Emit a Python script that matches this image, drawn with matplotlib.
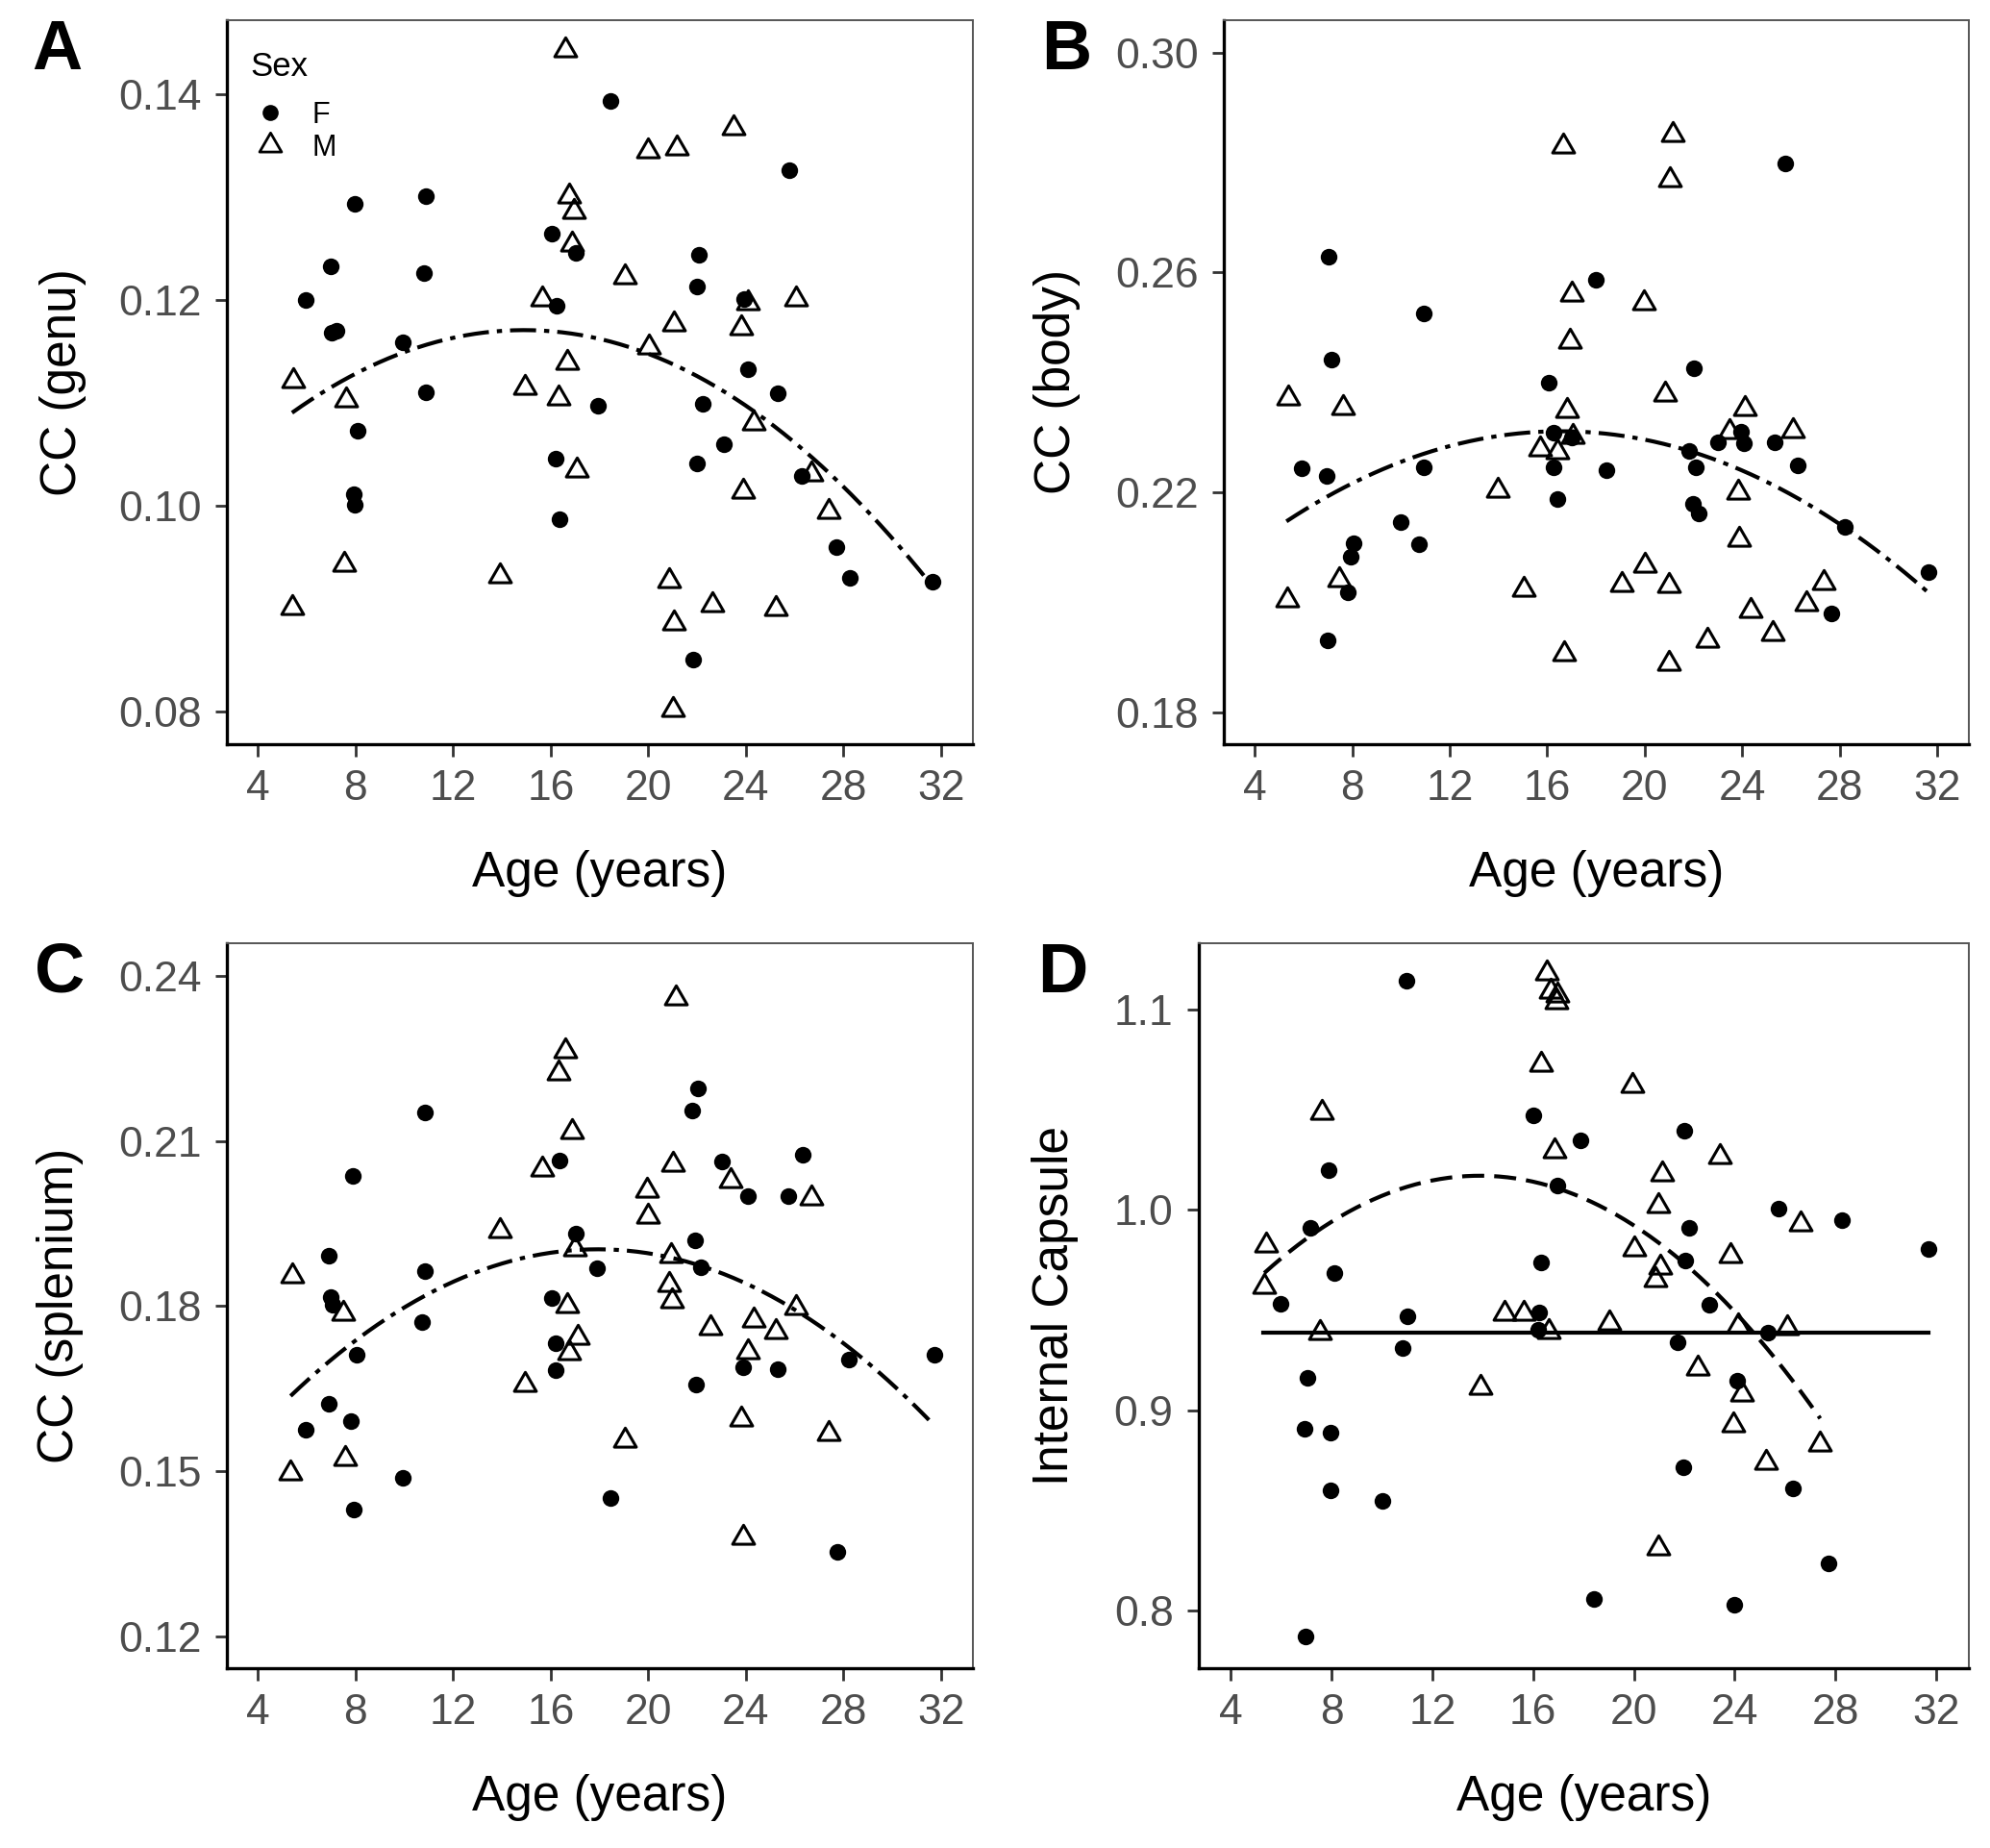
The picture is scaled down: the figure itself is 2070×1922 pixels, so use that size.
import numpy as np
import matplotlib
matplotlib.use("Agg")
import matplotlib.pyplot as plt
from matplotlib.lines import Line2D
from matplotlib.path import Path

plt.rcParams['font.family'] = ['Liberation Sans', 'DejaVu Sans']

# ---------------- data ----------------
age_ticks = [4, 8, 12, 16, 20, 24, 28, 32]

# A: CC (genu)
genu_age_f = [5.97, 7.0, 7.04, 7.24, 7.97, 8.10, 7.92, 7.95, 9.95, 10.90, 10.82, 10.90,
              16.03, 16.26, 17.03, 16.2, 16.37, 17.92, 18.45, 22.07, 22.0, 22.23, 22.0,
              23.09, 21.84, 23.93, 24.09, 25.3, 25.77, 26.3, 27.7, 28.27, 31.64]
genu_f = [0.1200, 0.1233, 0.1168, 0.1170, 0.1293, 0.1073, 0.1011, 0.1001, 0.1159, 0.1301,
          0.1226, 0.1110, 0.1264, 0.1194, 0.1246, 0.1046, 0.0987, 0.1097, 0.1393, 0.1244,
          0.1213, 0.1099, 0.1041, 0.1060, 0.0850, 0.1201, 0.1133, 0.1109, 0.1326, 0.1029,
          0.0960, 0.0930, 0.0926]
genu_age_m = [5.45, 5.40, 7.62, 7.53, 13.91, 14.94, 15.64, 16.33, 16.66, 16.6, 16.75, 16.97,
              16.89, 17.06, 19.05, 19.97, 20.04, 21.17, 21.03, 20.86, 21.03, 20.99, 22.62,
              23.48, 24.09, 23.8, 26.07, 24.3, 23.9, 26.7, 27.4, 25.24]
genu_m = [0.1121, 0.0901, 0.1103, 0.0943, 0.0932, 0.1115, 0.1201, 0.1105, 0.1139, 0.1443,
          0.1301, 0.1286, 0.1254, 0.1034, 0.1222, 0.1345, 0.1154, 0.1348, 0.1177, 0.0927,
          0.0886, 0.0802, 0.0904, 0.1367, 0.1197, 0.1173, 0.1201, 0.1080, 0.1014, 0.1031,
          0.0994, 0.0900]
genu_fit_age = [5.4, 13.2, 17.9, 23.5, 27.3, 31.6]
genu_fit = [0.1089, 0.1170, 0.1165, 0.1103, 0.1030, 0.0926]

# B: CC (body)
body_age_f = [7.04, 7.15, 5.94, 6.95, 6.98, 8.07, 7.93, 7.83, 9.99, 10.75, 10.95, 10.95,
              25.78, 17.99, 22.02, 16.06, 16.26, 23.95, 24.08, 23.01, 25.32, 21.82, 22.09,
              26.26, 16.26, 18.43, 16.42, 21.99, 22.2, 28.22, 31.64, 27.67, 17.0]
body_f = [0.2628, 0.2442, 0.2244, 0.2230, 0.1931, 0.2107, 0.2083, 0.2018, 0.2146, 0.2105,
          0.2525, 0.2246, 0.2799, 0.2586, 0.2425, 0.2400, 0.2308, 0.2310, 0.2290, 0.2291,
          0.2291, 0.2276, 0.2245, 0.2250, 0.2245, 0.2241, 0.2188, 0.2180, 0.2161, 0.2137,
          0.2055, 0.1979, 0.2300]
body_age_m = [5.38, 7.61, 5.34, 7.48, 16.64, 21.15, 21.02, 16.99, 19.95, 16.94, 20.84, 16.81,
              24.12, 23.46, 26.08, 15.70, 16.41, 17.05, 13.99, 23.84, 23.89, 20.02, 15.02,
              19.05, 20.98, 27.34, 26.63, 24.33, 25.25, 22.57, 16.71, 20.98]
body_m = [0.2371, 0.2355, 0.2004, 0.2041, 0.2830, 0.2851, 0.2768, 0.2561, 0.2544, 0.2475,
          0.2379, 0.2349, 0.2353, 0.2310, 0.2313, 0.2279, 0.2274, 0.2302, 0.2203, 0.2200,
          0.2115, 0.2068, 0.2024, 0.2033, 0.2030, 0.2035, 0.1997, 0.1985, 0.1943, 0.1931,
          0.1907, 0.1889]
body_fit_age = [5.3, 12.5, 18.0, 26.3, 31.6]
body_fit = [0.2148, 0.2288, 0.2310, 0.2189, 0.2019]

# C: CC (splenium)
spl_age_f = [10.84, 7.90, 6.90, 10.84, 6.99, 7.08, 10.73, 8.03, 6.92, 7.83, 5.95, 9.94, 7.92,
             22.03, 21.79, 16.35, 23.02, 17.02, 21.91, 17.9, 22.16, 16.04, 16.22, 16.2, 21.97,
             18.43, 26.33, 24.09, 25.73, 23.9, 25.3, 28.23, 31.73, 27.73]
spl_f = [0.2151, 0.2037, 0.1891, 0.1863, 0.1817, 0.1802, 0.1770, 0.1711, 0.1623, 0.1591,
         0.1576, 0.1487, 0.1430, 0.2196, 0.2155, 0.2064, 0.2063, 0.1932, 0.1919, 0.1868,
         0.1870, 0.1815, 0.1732, 0.1684, 0.1657, 0.1452, 0.2074, 0.2000, 0.2000, 0.1689,
         0.1685, 0.1703, 0.1712, 0.1353]
spl_age_m = [5.39, 7.51, 7.57, 5.34, 21.11, 16.59, 16.33, 16.89, 15.67, 21.01, 23.38, 19.93,
             20.0, 13.93, 16.98, 20.94, 20.85, 20.98, 16.66, 22.56, 17.09, 16.75, 14.95, 19.04,
             26.67, 26.04, 24.31, 25.24, 24.09, 23.8, 27.4, 23.9]
spl_m = [0.1854, 0.1787, 0.1522, 0.1497, 0.2359, 0.2263, 0.2223, 0.2117, 0.2048, 0.2058,
         0.2028, 0.2010, 0.1963, 0.1937, 0.1904, 0.1891, 0.1839, 0.1809, 0.1800, 0.1761,
         0.1743, 0.1715, 0.1657, 0.1556, 0.1997, 0.1797, 0.1775, 0.1753, 0.1716, 0.1595,
         0.1569, 0.1380]
spl_fit_age = [5.34, 8.0, 10.8, 13.3, 17.0, 21.05, 23.3, 27.7, 31.5]
spl_fit = [0.1637, 0.1735, 0.1817, 0.1870, 0.1903, 0.1887, 0.1852, 0.1740, 0.1595]

# D: Internal Capsule
ic_age_f = [10.97, 7.87, 7.14, 8.10, 5.97, 11.01, 10.82, 7.06, 6.92, 7.94, 7.95, 10.01, 6.97,
            16.0, 17.88, 22.02, 16.97, 16.32, 25.76, 28.25, 31.71, 22.18, 22.06, 23.0, 16.23,
            16.19, 25.31, 21.75, 24.10, 21.95, 26.30, 27.71, 18.42, 23.97]
ic_f = [1.1143, 1.0196, 0.9909, 0.9687, 0.9530, 0.9468, 0.9310, 0.9162, 0.8909, 0.8888,
        0.8601, 0.8547, 0.7874, 1.0470, 1.0346, 1.0394, 1.0122, 0.9740, 1.0005, 0.9950,
        0.9807, 0.9909, 0.9747, 0.9525, 0.9489, 0.9401, 0.9389, 0.9341, 0.9150, 0.8714,
        0.8609, 0.8239, 0.8057, 0.8029]
ic_age_m = [7.62, 5.40, 5.33, 7.53, 16.54, 16.70, 16.97, 16.94, 16.30, 19.93, 16.87, 23.40,
            21.11, 20.98, 26.63, 20.0, 23.83, 21.04, 20.85, 14.88, 15.62, 19.01, 16.63, 24.13,
            26.09, 13.90, 22.55, 24.30, 23.94, 27.40, 25.25, 20.98]
ic_m = [1.0487, 0.9823, 0.9616, 0.9389, 1.1179, 1.1091, 1.1072, 1.1036, 1.0726, 1.0618,
        1.0296, 1.0265, 1.0177, 1.0021, 0.9931, 0.9807, 0.9771, 0.9716, 0.9652, 0.9484,
        0.9484, 0.9437, 0.9394, 0.9420, 0.9413, 0.9115, 0.9210, 0.9079, 0.8928, 0.8833,
        0.8738, 0.8315]
ic_fit_age = [5.33, 8.64, 13.26, 16.97, 21.14, 23.16, 26.52, 27.4]
ic_fit = [0.968, 0.9986, 1.0181, 1.0122, 0.9807, 0.9568, 0.915, 0.8947]
ic_flat_age = [5.3, 31.7]
ic_flat = 0.939

# ---------------- figure ----------------
W, H = 2070, 1922
fig = plt.figure(figsize=(W / 100, H / 100), dpi=100)

def add_ax(l, t, r, b):
    return fig.add_axes([l / W, 1 - b / H, (r - l) / W, (b - t) / H])

# open triangle, closed path so the corners join
tri = Path([(-1, -0.577), (1, -0.577), (0, 1.155), (-1, -0.577)],
           [Path.MOVETO, Path.LINETO, Path.LINETO, Path.CLOSEPOLY])
DOTDASH = (0, (6.5, 2, 1.3, 2))
LW = 3.0

def draw_points(ax, age_f, val_f, age_m, val_m):
    ax.plot(age_f, val_f, linestyle='none', marker='o', ms=12.5, color='black', mew=0)
    ax.plot(age_m, val_m, linestyle='none', marker=tri, ms=19, mfc='none',
            mec='black', mew=2.2)

def quad_curve(ax, xs, ys, ls):
    c = np.polyfit(xs, ys, 2)
    xx = np.linspace(xs[0], xs[-1], 200)
    ax.plot(xx, np.polyval(c, xx), color='black', lw=LW, linestyle=ls)

def style(ax, ylim, yticks, fmt):
    ax.set_xlim(2.73, 33.3)
    ax.set_ylim(*ylim)
    ax.set_xticks(age_ticks)
    ax.set_yticks(yticks)
    ax.set_yticklabels([fmt.format(v) for v in yticks])
    for s in ['left', 'bottom']:
        ax.spines[s].set_linewidth(2.4)
        ax.spines[s].set_color('black')
    for s in ['top', 'right']:
        ax.spines[s].set_linewidth(1.4)
        ax.spines[s].set_color('#555555')
    ax.tick_params(length=9, width=2, color='#333333', labelsize=32,
                   labelcolor='#4D4D4D', pad=10)

def labels(ax, letter, lx, ly, ylab, yx, x_base):
    pos = ax.get_position()
    fig.text(lx / W, 1 - ly / H, letter, fontsize=52, fontweight='bold',
             ha='center', va='baseline')
    fig.text(yx / W, (pos.y0 + pos.y1) / 2, ylab, fontsize=37, rotation=90,
             ha='center', va='center')
    fig.text((pos.x0 + pos.x1) / 2, 1 - x_base / H, 'Age (years)', fontsize=37,
             ha='center', va='baseline')

# A
axA = add_ax(236, 21, 1012, 774)
draw_points(axA, genu_age_f, genu_f, genu_age_m, genu_m)
quad_curve(axA, genu_fit_age, genu_fit, DOTDASH)
style(axA, (0.0768, 0.1472), [0.08, 0.10, 0.12, 0.14], '{:.2f}')
labels(axA, 'A', 59, 72, 'CC (genu)', 65, 922)
axA.text(0.031, 0.923, 'Sex', transform=axA.transAxes, fontsize=25, va='baseline')
handles = [Line2D([], [], linestyle='none', marker='o', ms=12, color='black', mew=0),
           Line2D([], [], linestyle='none', marker=tri, ms=19, mfc='none', mec='black', mew=2.0)]
axA.legend(handles, ['F', 'M'], loc='upper left', bbox_to_anchor=(0.031, 0.889),
           frameon=False, fontsize=22, handlelength=1.4, handletextpad=0.7,
           labelspacing=0.15, borderpad=0, borderaxespad=0)

# B
axB = add_ax(1273, 21, 2048, 774)
draw_points(axB, body_age_f, body_f, body_age_m, body_m)
quad_curve(axB, body_fit_age, body_fit, DOTDASH)
style(axB, (0.1742, 0.3059), [0.18, 0.22, 0.26, 0.30], '{:.2f}')
labels(axB, 'B', 1109, 72, 'CC (body)', 1099, 922)

# C
axC = add_ax(236, 981, 1012, 1735)
draw_points(axC, spl_age_f, spl_f, spl_age_m, spl_m)
quad_curve(axC, spl_fit_age, spl_fit, DOTDASH)
style(axC, (0.1142, 0.2459), [0.12, 0.15, 0.18, 0.21, 0.24], '{:.2f}')
labels(axC, 'C', 62, 1032, 'CC (splenium)', 63, 1883)

# D
axD = add_ax(1247, 981, 2048, 1735)
draw_points(axD, ic_age_f, ic_f, ic_age_m, ic_m)
quad_curve(axD, ic_fit_age, ic_fit, (0, (5.5, 2.5)))
axD.plot(ic_flat_age, [ic_flat] * len(ic_flat_age), color='black', lw=LW)
style(axD, (0.7714, 1.133), [0.8, 0.9, 1.0, 1.1], '{:.1f}')
labels(axD, 'D', 1105, 1032, 'Internal Capsule', 1097, 1883)

fig.savefig('out.png', dpi=100, facecolor='white')
